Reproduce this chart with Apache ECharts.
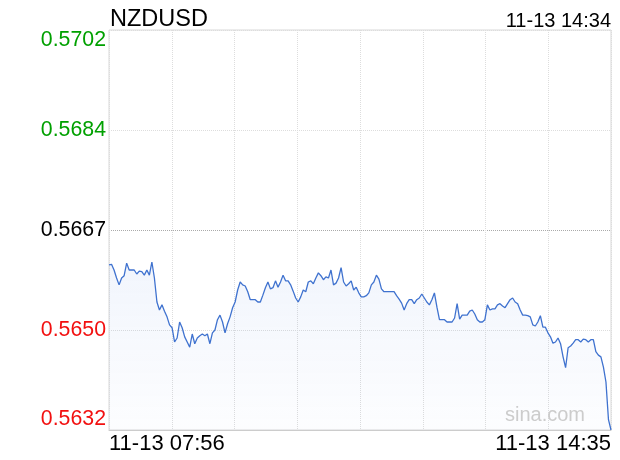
<!DOCTYPE html>
<html>
<head>
<meta charset="utf-8">
<script src="https://cdn.jsdelivr.net/npm/echarts@6/dist/echarts.min.js"></script>
<style>
  html, body { margin: 0; padding: 0; background: #fff; }
  #chart { width: 620px; height: 460px; }
</style>
</head>
<body>
<div id="chart"></div>
<script>
const symbol = 'NZDUSD';
const lastTime = '11-13 14:34';
const xTickLabels = ['11-13 07:56', '11-13 14:35'];
const yTickLabels = ['0.5632', '0.5650', '0.5667', '0.5684', '0.5702'];
const prevClose = 0.5667;
const yMin = 0.5632;
const yMax = 0.5702;

// NZDUSD quotes, sampled every 2 minutes from 07:56 to 14:34
const prices = [
  0.56609, 0.56610, 0.56600, 0.56586, 0.56574, 0.56586, 0.56590, 0.56612, 0.56600, 0.56600,
  0.56600, 0.56593, 0.56598, 0.56597, 0.56591, 0.56600, 0.56591, 0.56614, 0.56586, 0.56544,
  0.56530, 0.56539, 0.56528, 0.56518, 0.56504, 0.56499, 0.56474, 0.56481, 0.56509, 0.56499,
  0.56483, 0.56474, 0.56465, 0.56488, 0.56471, 0.56481, 0.56485, 0.56488, 0.56485, 0.56488,
  0.56471, 0.56490, 0.56495, 0.56513, 0.56521, 0.56509, 0.56490, 0.56506, 0.56518, 0.56534,
  0.56544, 0.56565, 0.56579, 0.56574, 0.56572, 0.56562, 0.56548, 0.56548, 0.56548, 0.56544,
  0.56544, 0.56556, 0.56569, 0.56579, 0.56567, 0.56569, 0.56581, 0.56570, 0.56579, 0.56591,
  0.56581, 0.56581, 0.56574, 0.56563, 0.56551, 0.56544, 0.56553, 0.56565, 0.56562, 0.56579,
  0.56581, 0.56576, 0.56586, 0.56595, 0.56590, 0.56583, 0.56588, 0.56586, 0.56600, 0.56574,
  0.56577, 0.56586, 0.56604, 0.56579, 0.56572, 0.56576, 0.56581, 0.56565, 0.56570, 0.56560,
  0.56553, 0.56553, 0.56555, 0.56560, 0.56574, 0.56579, 0.56591, 0.56584, 0.56567, 0.56562,
  0.56562, 0.56562, 0.56562, 0.56562, 0.56555, 0.56549, 0.56542, 0.56530, 0.56541, 0.56548,
  0.56548, 0.56541, 0.56548, 0.56551, 0.56558, 0.56551, 0.56544, 0.56539, 0.56548, 0.56560,
  0.56535, 0.56513, 0.56513, 0.56513, 0.56509, 0.56509, 0.56509, 0.56516, 0.56541, 0.56514,
  0.56521, 0.56521, 0.56521, 0.56528, 0.56530, 0.56523, 0.56513, 0.56509, 0.56509, 0.56513,
  0.56539, 0.56530, 0.56532, 0.56532, 0.56539, 0.56541, 0.56537, 0.56534, 0.56541, 0.56548,
  0.56551, 0.56544, 0.56541, 0.56530, 0.56521, 0.56521, 0.56520, 0.56518, 0.56504, 0.56502,
  0.56509, 0.56520, 0.56500, 0.56500, 0.56490, 0.56483, 0.56472, 0.56474, 0.56481, 0.56471,
  0.56448, 0.56429, 0.56464, 0.56467, 0.56472, 0.56478, 0.56478, 0.56474, 0.56479, 0.56478,
  0.56474, 0.56478, 0.56478, 0.56457, 0.56451, 0.56448, 0.56430, 0.56404, 0.56338, 0.56320
];

// minute labels for each sample
const times = [];
for (let i = 0; i < prices.length; i++) {
  const m = 7 * 60 + 56 + i * 2;
  times.push(String(Math.floor(m / 60)).padStart(2, '0') + ':' + String(m % 60).padStart(2, '0'));
}

const font = 'Arial, "Liberation Sans", sans-serif';
const chart = echarts.init(document.getElementById('chart'));

const option = {
  animation: false,
  title: [
    {
      text: symbol,
      left: 110, top: 8, padding: 0,
      textStyle: { fontSize: 23.5, fontWeight: 'normal', color: '#000', fontFamily: font }
    },
    {
      text: lastTime,
      right: 9, top: 11, padding: 0,
      textStyle: { fontSize: 20, fontWeight: 'normal', color: '#000', fontFamily: font }
    },
    {
      text: 'sina.com',
      left: 505, top: 405, padding: 0,
      textStyle: { fontSize: 20, fontWeight: 'normal', color: '#cccccc', fontFamily: font }
    }
  ],
  grid: {
    left: 109, right: 9, top: 30, bottom: 30,
    show: true,
    borderColor: '#d8d8d8',
    borderWidth: 1
  },
  xAxis: [
    {
      type: 'category',
      data: times,
      boundaryGap: false,
      axisLine: { show: true, lineStyle: { color: '#cccccc' } },
      axisTick: { show: false },
      splitLine: { show: false },
      axisLabel: {
        interval: (idx) => idx === 0 || idx === times.length - 1,
        formatter: (val, idx) => (idx === 0 ? xTickLabels[0] : xTickLabels[1]),
        alignMinLabel: 'left',
        alignMaxLabel: 'right',
        margin: 3,
        fontSize: 22,
        color: '#000',
        fontFamily: font
      }
    },
    {
      type: 'value',
      min: 0, max: 8, interval: 1,
      position: 'bottom',
      axisLine: { show: false },
      axisTick: { show: false },
      axisLabel: { show: false },
      splitLine: { show: true, lineStyle: { color: '#dddddd', type: 'dotted', width: 1 } }
    }
  ],
  yAxis: {
    type: 'value',
    min: yMin,
    max: yMax,
    interval: 0.00175,
    axisLine: { show: false },
    axisTick: { show: false },
    splitLine: {
      show: true,
      lineStyle: {
        color: ['#dddddd', '#dddddd', '#aaaaaa', '#dddddd', '#dddddd'],
        type: 'dotted',
        width: 1
      }
    },
    axisLabel: {
      margin: 3,
      fontSize: 21.3,
      fontFamily: font,
      verticalAlignMinLabel: 'bottom',
      verticalAlignMaxLabel: 'top',
      formatter: (v) => yTickLabels[Math.round((v - yMin) / 0.00175)],
      color: (v) => {
        const lab = yTickLabels[Math.round((v - yMin) / 0.00175)];
        const n = parseFloat(lab);
        if (n > prevClose) return '#00a000';
        if (n < prevClose) return '#f21010';
        return '#000';
      }
    }
  },
  series: [
    {
      type: 'line',
      xAxisIndex: 0,
      data: prices,
      showSymbol: false,
      symbol: 'none',
      lineStyle: { color: '#3f72cf', width: 1.3 },
      areaStyle: {
        color: new echarts.graphic.LinearGradient(0, 0, 0, 1, [
          { offset: 0, color: 'rgba(70,120,220,0.10)' },
          { offset: 1, color: 'rgba(70,120,220,0.02)' }
        ])
      }
    }
  ]
};

chart.setOption(option);
</script>
</body>
</html>
